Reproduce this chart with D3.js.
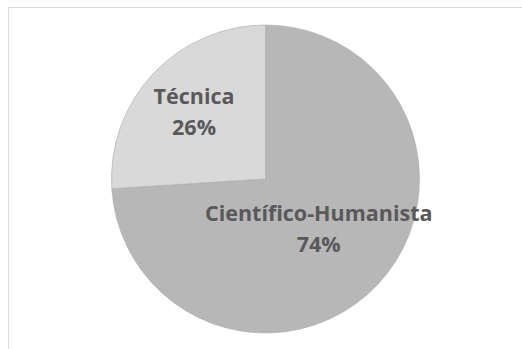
<!DOCTYPE html>
<html>
<head>
<meta charset="utf-8">
<script src="https://cdn.jsdelivr.net/npm/d3@7"></script>
<style>
  body { margin: 0; background: #fff; }
  svg { display: block; }
</style>
</head>
<body>
<svg id="chart"></svg>
<script>
// data
const categories = ['Científico-Humanista', 'Técnica'];
const values = [74, 26];
const colors = ['#b7b7b7', '#d9d9d9'];

const width = 522, height = 349;
const cx = 265.5, cy = 179, radius = 154;
// Excel puts each label at its own distance from centre
const labelRadius = [73, 98];

const svg = d3.select('#chart')
  .attr('width', width)
  .attr('height', height);

// chart frame (runs past the right and bottom edges of the picture)
svg.append('rect')
  .attr('x', 8.5).attr('y', 7.5)
  .attr('width', 540).attr('height', 380)
  .attr('fill', '#fff')
  .attr('stroke', '#d9d9d9')
  .attr('stroke-width', 1);

const pie = d3.pie().sort(null).value(d => d);
const arcs = pie(values);
const arc = d3.arc().innerRadius(0).outerRadius(radius);

const g = svg.append('g').attr('transform', `translate(${cx},${cy})`);

g.selectAll('path.slice')
  .data(arcs)
  .enter().append('path')
  .attr('class', 'slice')
  .attr('d', arc)
  .attr('fill', (d, i) => colors[i])
  .attr('stroke', '#a9a9a9')
  .attr('stroke-width', 0.6);

const labels = g.selectAll('text.label')
  .data(arcs)
  .enter().append('text')
  .attr('class', 'label')
  .attr('transform', (d, i) => {
    const c = d3.arc().innerRadius(labelRadius[i]).outerRadius(labelRadius[i]).centroid(d);
    return `translate(${c[0]},${c[1]})`;
  })
  .attr('text-anchor', 'middle')
  .attr('font-family', '"Open Sans", "Noto Sans", sans-serif')
  .attr('font-weight', 'bold')
  .attr('font-size', 21.5)
  .attr('fill', '#595959');

labels.append('tspan')
  .attr('x', 0)
  .attr('y', -8)
  .text((d, i) => categories[i]);

labels.append('tspan')
  .attr('x', 0)
  .attr('y', 23.5)
  .text(d => d.data + '%');
</script>
</body>
</html>
